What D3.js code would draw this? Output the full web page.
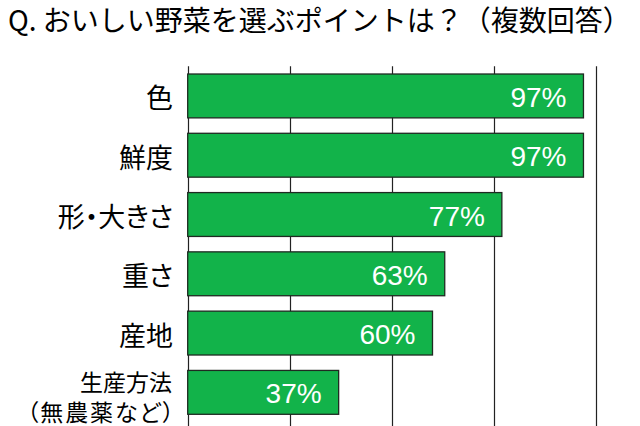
<!DOCTYPE html>
<html lang="ja">
<head>
<meta charset="utf-8">
<script src="https://cdn.jsdelivr.net/npm/d3@7"></script>
<style>
  body { margin: 0; background: #fff; }
  svg { display: block; }
  .jp { font-family: 'Noto Sans CJK JP', 'Noto Sans', sans-serif; }
  .palt { font-feature-settings: "palt" 1; }
</style>
</head>
<body>
<svg id="chart"></svg>
<script>
const title = "Q. おいしい野菜を選ぶポイントは？（複数回答）";

// categories, top to bottom ("\n" = second line)
const categories = ["色", "鮮度", "形・大きさ", "重さ", "産地", "生産方法\n（無農薬など）"];
const values = [97, 97, 77, 63, 60, 37];

// gridline positions (%)
const ticks = [0, 25, 50, 75, 100];

const width = 640;
const height = 426;
const margin = { top: 66.3, right: 44.3, bottom: 4, left: 187.7 };
const barColor = "#12b34a";

const svg = d3.select("#chart")
  .attr("width", width)
  .attr("height", height);

svg.append("rect")
  .attr("width", width)
  .attr("height", height)
  .attr("fill", "#fff");

svg.append("text")
  .attr("class", "jp")
  .attr("x", 8)
  .attr("y", 31)
  .attr("font-size", 28)
  .attr("fill", "#000")
  .text(title);

const x = d3.scaleLinear()
  .domain([0, 100])
  .range([margin.left, width - margin.right]);

const y = d3.scaleBand()
  .domain(categories)
  .range([margin.top, height - margin.bottom])
  .paddingInner(0.26)
  .paddingOuter(0.13);

// vertical gridlines (axis at 0 included), running off the bottom edge
svg.append("g")
  .selectAll("line")
  .data(ticks)
  .enter()
  .append("line")
  .attr("x1", (d) => Math.round(x(d)) + 0.5)
  .attr("x2", (d) => Math.round(x(d)) + 0.5)
  .attr("y1", margin.top)
  .attr("y2", height)
  .attr("stroke", "#222")
  .attr("stroke-width", 1.2);

svg.append("g")
  .selectAll("rect")
  .data(values)
  .enter()
  .append("rect")
  .attr("x", x(0))
  .attr("y", (d, i) => y(categories[i]))
  .attr("width", (d) => x(d) - x(0))
  .attr("height", y.bandwidth())
  .attr("fill", barColor)
  .attr("stroke", "#1f2a22")
  .attr("stroke-width", 1.3);

svg.append("g")
  .selectAll("text")
  .data(values)
  .enter()
  .append("text")
  .attr("x", (d) => x(d) - 17)
  .attr("y", (d, i) => y(categories[i]) + y.bandwidth() / 2 + 11)
  .attr("text-anchor", "end")
  .attr("font-family", "'Liberation Sans', Arial, sans-serif")
  .attr("font-size", 28)
  .attr("fill", "#fff")
  .text((d) => d + "%");

// category labels, two-line ones get a smaller font
const labels = svg.append("g")
  .selectAll("text")
  .data(categories)
  .enter()
  .append("text")
  .attr("class", "jp palt")
  .attr("text-anchor", "end")
  .attr("fill", "#000")
  .attr("dominant-baseline", "central");

labels.each(function (d) {
  const lines = d.split("\n");
  const cy = y(d) + y.bandwidth() / 2;
  const t = d3.select(this);
  if (lines.length === 1) {
    t.attr("x", 173).attr("y", cy + 1).attr("font-size", 27).text(d);
  } else {
    t.attr("font-size", 23);
    lines.forEach((line, k) => {
      const s = t.append("tspan")
        .attr("x", k === 0 ? 172 : 174)
        .attr("y", cy - 11.5 + k * 30)
        .text(line);
      if (k > 0) s.attr("textLength", 147).attr("lengthAdjust", "spacing");
    });
  }
});
</script>
</body>
</html>
